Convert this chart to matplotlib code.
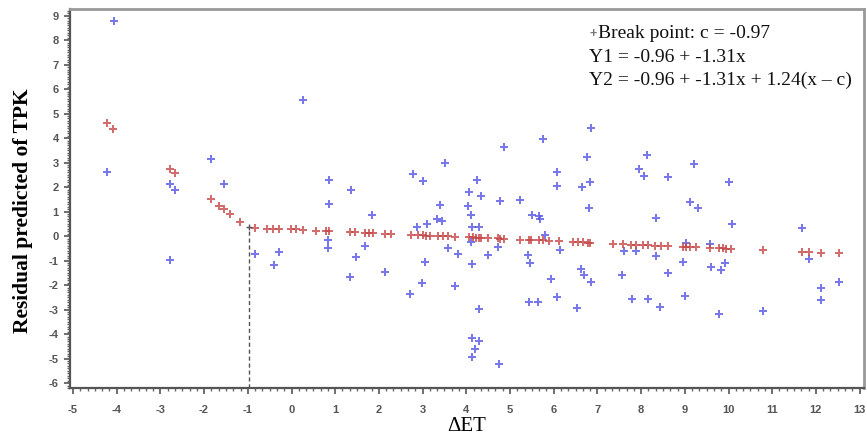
import matplotlib
matplotlib.use("Agg")
import matplotlib.pyplot as plt
from matplotlib.ticker import MultipleLocator, AutoMinorLocator

plt.rcParams["axes.unicode_minus"] = False

# observed residuals (blue)
obs_x = [-4.22, -4.07, -2.79, -2.67, -2.79, -1.85, -1.55, -0.83, -0.40, -0.29,
         0.26, 0.85, 0.85, 0.83, 0.83, 1.37, 1.84, 1.69, 1.48, 1.34,
         2.15, 2.77, 3.02, 3.51, 3.40, 3.32, 3.44, 2.88, 3.10, 3.05,
         2.99, 2.72, 3.59, 3.81, 3.73, 4.25, 4.07, 4.33, 4.05, 4.11,
         4.14, 4.30, 4.11, 4.13, 4.28, 4.13, 4.28, 4.20, 4.13, 4.49,
         4.74, 4.87, 4.76, 4.72, 5.22, 5.50, 5.66, 5.69, 5.79, 5.76,
         6.08, 6.08, 5.42, 5.45, 6.14, 5.93, 5.43, 5.64, 6.08, 6.54,
         6.63, 6.70, 6.86, 6.86, 6.77, 6.82, 6.65, 6.80, 8.13, 7.95,
         8.06, 8.61, 8.33, 7.62, 7.89, 8.33, 7.57, 8.61, 7.80, 8.16,
         8.44, 9.22, 10.01, 9.11, 9.31, 10.08, 9.03, 9.57, 8.95, 9.60,
         9.91, 9.83, 9.00, 9.79, 10.79, 11.69, 11.85, 12.12, 12.12, 12.52]
obs_y = [2.60, 8.77, 2.11, 1.87, -0.97, 3.15, 2.13, -0.75, -1.20, -0.64,
         5.55, 2.29, 1.32, -0.14, -0.50, 1.87, 0.85, -0.42, -0.87, -1.66,
         -1.47, 2.55, 2.25, 2.99, 1.27, 0.70, 0.61, 0.38, 0.49, -1.06,
         -1.91, -2.38, -0.50, -0.74, -2.04, 2.28, 1.79, 1.64, 1.23, 0.86,
         0.38, 0.38, -0.23, -1.15, -2.99, -4.18, -4.29, -4.62, -4.92, -0.78,
         -5.24, 3.63, 1.44, -0.46, 1.47, 0.85, 0.82, 0.68, 0.04, 3.97,
         2.63, 2.06, -0.78, -1.09, -0.57, -1.76, -2.69, -2.71, -2.48, -2.94,
         -1.36, -1.58, -1.89, 4.40, 3.22, 2.22, 2.00, 1.16, 3.29, 2.75,
         2.47, 2.40, 0.75, -0.60, -0.60, -0.80, -1.58, -1.49, -2.58, -2.55,
         -2.88, 2.93, 2.20, 1.39, 1.15, 0.48, -0.30, -0.33, -1.05, -1.25,
         -1.08, -1.40, -2.43, -3.18, -3.05, 0.34, -0.93, -2.13, -2.59, -1.87]

# predicted values (red)
pred_x = [-4.22, -4.08, -2.79, -2.67, -1.85, -1.65, -1.55, -1.40, -1.17, -0.83,
          -0.56, -0.42, -0.29, -0.02, 0.11, 0.26, 0.55, 0.79, 0.85, 1.33,
          1.46, 1.69, 1.78, 1.86, 2.13, 2.28, 2.74, 2.89, 3.00, 3.08,
          3.16, 3.35, 3.46, 3.58, 3.73, 4.07, 4.15, 4.23, 4.30, 4.34,
          4.49, 4.72, 4.76, 4.87, 5.22, 5.43, 5.49, 5.66, 5.75, 5.90,
          6.12, 6.44, 6.55, 6.67, 6.78, 6.82, 7.35, 7.58, 7.77, 7.89,
          8.04, 8.15, 8.31, 8.46, 8.61, 8.95, 9.03, 9.11, 9.26, 9.57,
          9.79, 9.87, 9.95, 10.06, 10.79, 11.69, 11.85, 12.12, 12.52]
pred_y = [4.61, 4.39, 2.74, 2.59, 1.50, 1.23, 1.12, 0.90, 0.57, 0.31,
          0.29, 0.29, 0.29, 0.27, 0.27, 0.26, 0.22, 0.20, 0.20, 0.16,
          0.15, 0.13, 0.12, 0.11, 0.10, 0.09, 0.05, 0.04, 0.03, 0.02,
          0.02, 0.00, 0.00, -0.01, -0.02, -0.05, -0.05, -0.06, -0.07, -0.07,
          -0.08, -0.09, -0.10, -0.11, -0.14, -0.15, -0.16, -0.17, -0.17, -0.19,
          -0.20, -0.24, -0.25, -0.26, -0.27, -0.27, -0.32, -0.33, -0.35, -0.36,
          -0.37, -0.38, -0.39, -0.40, -0.41, -0.43, -0.44, -0.45, -0.46, -0.48,
          -0.50, -0.50, -0.51, -0.52, -0.57, -0.64, -0.66, -0.68, -0.71]

break_x = -0.97
break_y = 0.36

annot_lines = ["Break point: c = -0.97",
               "Y1 = -0.96 + -1.31x",
               "Y2 = -0.96 + -1.31x + 1.24(x \u2013 c)"]

serif = ["Liberation Serif", "DejaVu Serif"]
sans = ["Liberation Sans", "DejaVu Sans"]

fig = plt.figure(figsize=(8.67, 4.43), dpi=100)
ax = fig.add_axes([0.0807, 0.1242, 0.9158, 0.8555])

ax.scatter(obs_x, obs_y, marker="P", s=30, color="#5656e4", alpha=0.8,
           linewidths=0, zorder=3)
ax.scatter(pred_x, pred_y, marker="P", s=28, color="#c64848", alpha=0.8,
           linewidths=0, zorder=4)

ax.set_xlim(-5.07, 13.1)
ax.set_ylim(-6.2, 9.27)

# break point line and marker
ax.plot([break_x, break_x], [ax.get_ylim()[0], break_y], ls=(0, (3, 2)),
        color="#555555", lw=1.0, zorder=2)
ax.plot([break_x], [break_y], marker="+", ms=4, color="#555555", mew=1.0, zorder=5)

ax.xaxis.set_major_locator(MultipleLocator(1))
ax.xaxis.set_minor_locator(AutoMinorLocator(6))
ax.yaxis.set_major_locator(MultipleLocator(1))
ax.yaxis.set_minor_locator(AutoMinorLocator(10))
ax.tick_params(which="major", direction="out", length=4, width=1.2,
               color="#555555", labelsize=8, labelcolor="#555555")
ax.tick_params(axis="x", which="major", pad=8)
ax.tick_params(axis="y", which="major", pad=4)
ax.tick_params(which="minor", direction="out", length=2.5, width=1.0,
               color="#666666")
for lbl in ax.get_xticklabels() + ax.get_yticklabels():
    lbl.set_family(sans)
    lbl.set_fontweight("bold")

for side in ["left", "bottom"]:
    ax.spines[side].set_color("#555555")
    ax.spines[side].set_linewidth(1.6)
for side in ["top", "right"]:
    ax.spines[side].set_color("#999999")
    ax.spines[side].set_linewidth(2.0)

ax.set_xlabel("\u0394ET", family=serif, fontsize=15, labelpad=2)
ax.set_ylabel("Residual predicted of TPK", family=serif, fontsize=15.5,
              fontweight="bold")
ax.yaxis.set_label_coords(-0.046, 0.467)

# annotation box in the upper right
tx, ty = 0.654, 0.935
ax.text(tx, ty, "+", transform=ax.transAxes, family=sans, fontsize=9,
        fontweight="bold", color="#777777", ha="left", va="center")
ax.annotate(annot_lines[0], xy=(tx, ty), xycoords="axes fraction",
            xytext=(6.5, 0), textcoords="offset points", family=serif,
            fontsize=14, color="#111111", ha="left", va="center")
for i, line in enumerate(annot_lines[1:], start=1):
    ax.text(tx, ty - i * 0.062, line, transform=ax.transAxes, family=serif,
            fontsize=14, color="#111111", ha="left", va="center")

fig.savefig("out.png", dpi=100)
